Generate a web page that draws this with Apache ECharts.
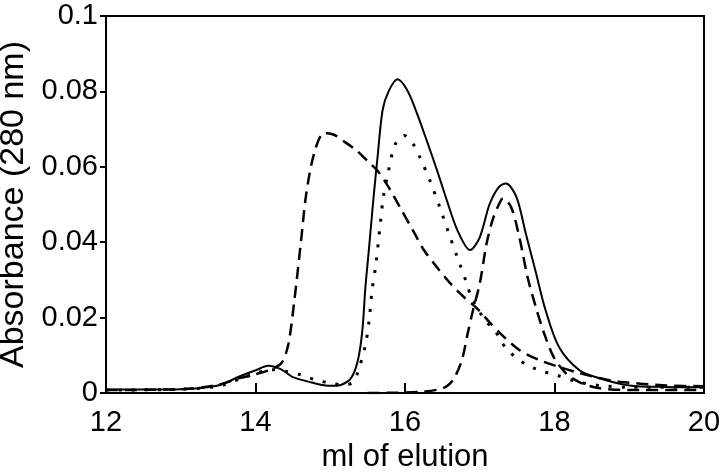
<!DOCTYPE html>
<html>
<head>
<meta charset="utf-8">
<script src="https://cdn.jsdelivr.net/npm/echarts@6/dist/echarts.min.js"></script>
<style>html,body{margin:0;padding:0;background:#fff}#c{width:720px;height:474px}</style>
</head>
<body>
<div id="c"></div>
<script>
const xTicks = [12, 14, 16, 18, 20];
const yTickLabels = ['0', '0.02', '0.04', '0.06', '0.08', '0.1'];

const solidX = [12, 12.5, 13, 13.5, 13.8, 14.0, 14.17, 14.35, 14.5, 14.75, 15.0, 15.15, 15.28, 15.37, 15.43, 15.47, 15.52, 15.58, 15.63, 15.70, 15.78, 15.90, 16.03, 16.16, 16.29, 16.43, 16.56, 16.70, 16.87, 17.0, 17.13, 17.25, 17.35, 17.49, 17.62, 17.75, 17.88, 18.06, 18.33, 18.59, 19.0, 19.5, 20];
const solidY = [0.0009, 0.0009, 0.001, 0.002, 0.0045, 0.006, 0.0072, 0.0062, 0.0042, 0.0028, 0.0019, 0.0022, 0.004, 0.0087, 0.0167, 0.028, 0.0387, 0.052, 0.062, 0.075, 0.080, 0.0832, 0.0803, 0.0742, 0.067, 0.059, 0.0511, 0.0432, 0.0379, 0.0413, 0.050, 0.0545, 0.0556, 0.052, 0.042, 0.032, 0.022, 0.0122, 0.0061, 0.004, 0.002, 0.0016, 0.0015];

const dottedX = [12, 13, 13.5, 13.8, 14.0, 14.2, 14.4, 14.61, 14.8, 15.0, 15.2, 15.3, 15.37, 15.47, 15.52, 15.56, 15.61, 15.67, 15.71, 15.78, 15.87, 15.99, 16.11, 16.2, 16.34, 16.47, 16.58, 16.70, 16.82, 16.89, 17.07, 17.2, 17.29, 17.4, 17.53, 17.69, 17.86, 18.02, 18.3, 18.6, 19, 20];
const dottedY = [0.0008, 0.001, 0.0018, 0.0038, 0.0052, 0.0062, 0.0058, 0.0048, 0.0035, 0.0026, 0.0022, 0.0028, 0.0056, 0.0127, 0.0193, 0.0273, 0.034, 0.045, 0.052, 0.059, 0.066, 0.0683, 0.066, 0.0625, 0.056, 0.049, 0.0427, 0.036, 0.0294, 0.0254, 0.0193, 0.0167, 0.0135, 0.0109, 0.0087, 0.0069, 0.0056, 0.0048, 0.003, 0.002, 0.0015, 0.0015];

const dashAX = [12, 13, 13.5, 13.8, 14.0, 14.2, 14.35, 14.44, 14.52, 14.61, 14.68, 14.79, 14.92, 15.05, 15.18, 15.36, 15.5, 15.63, 15.78, 15.94, 16.11, 16.25, 16.43, 16.60, 16.78, 16.96, 17.13, 17.27, 17.53, 17.80, 18.06, 18.33, 18.59, 18.86, 19.5, 20];
const dashAY = [0.0008, 0.001, 0.0022, 0.004, 0.005, 0.0062, 0.008, 0.013, 0.0246, 0.0405, 0.053, 0.064, 0.069, 0.0685, 0.0668, 0.0642, 0.0615, 0.059, 0.0546, 0.049, 0.043, 0.038, 0.0333, 0.0292, 0.0256, 0.0225, 0.0188, 0.0159, 0.0114, 0.0087, 0.0069, 0.0053, 0.004, 0.003, 0.002, 0.0018];

const dashBX = [15.5, 16.2, 16.51, 16.64, 16.76, 16.84, 16.91, 17.0, 17.09, 17.17, 17.27, 17.31, 17.42, 17.53, 17.64, 17.75, 17.86, 17.99, 18.15, 18.33, 18.59, 19, 20];
const dashBY = [0, 0.0003, 0.0013, 0.0034, 0.0087, 0.0159, 0.022, 0.029, 0.0395, 0.0458, 0.0506, 0.0516, 0.0493, 0.0413, 0.0307, 0.0228, 0.0159, 0.0095, 0.0053, 0.0029, 0.0013, 0.0008, 0.0008];

function pairs(xs, ys) { return xs.map((x, i) => [x, ys[i]]); }

const FONT = 'Liberation Sans, Arial, Helvetica, sans-serif';
const chart = echarts.init(document.getElementById('c'), null, {renderer: 'canvas'});
const base = {type: 'line', showSymbol: false, smooth: 0.3, silent: true, animation: false};
chart.setOption({
  animation: false,
  backgroundColor: '#fff',
  grid: {left: 106, right: 16, top: 16, bottom: 81, containLabel: false, outerBoundsMode: 'none',
    show: true, borderColor: '#000', borderWidth: 2, backgroundColor: 'transparent'},
  xAxis: {
    type: 'value', min: 12, max: 20, interval: 2,
    name: 'ml of elution', nameLocation: 'middle', nameGap: 44,
    nameTextStyle: {fontFamily: FONT, fontSize: 31, color: '#000'},
    axisLine: {lineStyle: {color: '#000', width: 2}},
    axisTick: {inside: true, length: 10, lineStyle: {color: '#000', width: 2}},
    axisLabel: {fontFamily: FONT, fontSize: 29, color: '#000', margin: 15, formatter: v => xTicks.indexOf(v) >= 0 ? String(v) : ''},
    splitLine: {show: false}
  },
  yAxis: {
    type: 'value', min: 0, max: 0.1, interval: 0.02,
    name: 'Absorbance (280 nm)', nameLocation: 'middle', nameGap: 64,
    nameTextStyle: {fontFamily: FONT, fontSize: 34, color: '#000'},
    axisLine: {show: true, lineStyle: {color: '#000', width: 2}},
    axisTick: {show: true, inside: false, length: 6, lineStyle: {color: '#000', width: 2}},
    axisLabel: {fontFamily: FONT, fontSize: 29, color: '#000', margin: 8,
      formatter: v => yTickLabels[Math.round(v / 0.02)]},
    splitLine: {show: false}
  },
  series: [
    Object.assign({}, base, {name: 'dashA', data: pairs(dashAX, dashAY), lineStyle: {color: '#000', width: 2.5, type: [12, 7]}}),
    Object.assign({}, base, {name: 'dashB', data: pairs(dashBX, dashBY), lineStyle: {color: '#000', width: 2.5, type: [12, 7]}}),
    Object.assign({}, base, {name: 'dotted', data: pairs(dottedX, dottedY), lineStyle: {color: '#000', width: 3, type: [3, 10], cap: 'butt'}}),
    Object.assign({}, base, {name: 'solid', data: pairs(solidX, solidY), lineStyle: {color: '#000', width: 2}})
  ]
});
</script>
</body>
</html>
